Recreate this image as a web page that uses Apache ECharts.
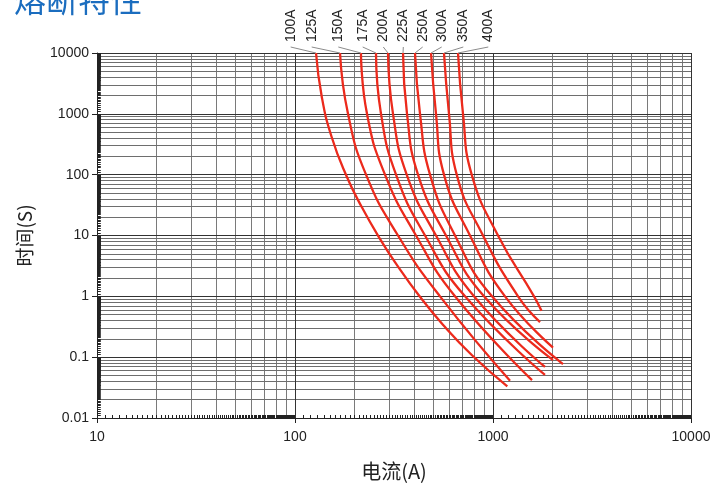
<!DOCTYPE html>
<html>
<head>
<meta charset="utf-8">
<script src="https://cdn.jsdelivr.net/npm/echarts@6/dist/echarts.min.js"></script>
<style>
html,body{margin:0;padding:0;background:#fff;}
#chart{width:725px;height:486px;}
</style>
</head>
<body>
<div id="chart"></div>
<script>
// ---- data ----
const xTickLabels = ['10', '100', '1000', '10000'];
const yTickLabels = ['0.01', '0.1', '1', '10', '100', '1000', '10000'];
const ratingLabels = ['100A', '125A', '150A', '175A', '200A', '225A', '250A', '300A', '350A', '400A'];
// [current (A), time (s)]
const curve100A = [[127.7,10000],[136.5,1910],[153,420],[182,95],[217,29.6],[271,8.4],[327.5,3.27],[421,1.05],[560,0.338],[781,0.1085],[1181,0.033]];
const curve125A = [[168.8,10000],[185.2,1000],[228.4,100],[331.3,10],[540,1],[1219,0.041]];
const curve150A = [[215.4,10000],[231,1000],[284.8,100],[408.4,10],[642.8,1],[1574,0.042]];
const curve175A = [[256.5,10000],[271.9,1000],[323.7,100],[453.6,10],[722.1,1],[1830,0.051]];
const curve200A = [[294.9,10000],[312.6,1000],[366.5,100],[515.3,10],[801.7,1],[1830,0.069]];
const curve225A = [[351.2,10000],[367.9,1000],[418,100],[578.8,10],[900.5,1],[2009,0.090]];
const curve250A = [[403.7,10000],[427.9,1000],[480.8,100],[642.8,10],[988.3,1],[2257,0.077]];
const curve300A = [[486.4,10000],[515.3,1000],[565.5,100],[765.3,10],[1150,1],[2009,0.144]];
const curve350A = [[565.5,10000],[599.5,1000],[655.8,100],[890.2,10],[1338,1],[1728,0.378]];
const curve400A = [[665.7,10000],[705.6,1000],[780.6,100],[1060,10],[1611,1],[1758,0.58]];
const curves = [curve100A, curve125A, curve150A, curve175A, curve200A, curve225A, curve250A, curve300A, curve350A, curve400A];

// ---- layout (pixels) ----
const labelX = [290.7, 311.7, 338.3, 362.7, 383.3, 403.3, 422.7, 441.7, 463.3, 488.3];
const labelBottomY = 42;
const leaderStartY = 47;

// ---- grid helpers built from axis ranges ----
const xDecades = [10, 100, 1000];
const yDecades = [0.01, 0.1, 1, 10, 100, 1000];
const minorMult = [2, 3, 4, 5, 6, 7, 8, 9];
function r(v){ return Number(v.toPrecision(6)); }

const gridLines = [];
xDecades.forEach(d => minorMult.forEach(m => gridLines.push({xAxis: r(d*m), lineStyle:{color:'#7a7a7a', width:1}})));
yDecades.forEach(d => minorMult.forEach(m => gridLines.push({yAxis: r(d*m), lineStyle:{color:'#6e6e6e', width:1}})));
[100, 1000, 10000].forEach(v => gridLines.push({xAxis: v, lineStyle:{color:'#333', width:1}}));
[0.1, 1, 10, 100, 1000, 10000].forEach(v => gridLines.push({yAxis: v, lineStyle:{color:'#333', width:1}}));

const tickLines = [];
for (let k = 11; k <= 99; k++) {
  xDecades.forEach(d => {
    const v = r(d * k / 10);
    tickLines.push([{coord:[v, 0.01]}, {coord:[v, 0.0112]}]);
  });
  yDecades.forEach(d => {
    const v = r(d * k / 10);
    tickLines.push([{coord:[10, v]}, {coord:[10.45, v]}]);
  });
}

const chart = echarts.init(document.getElementById('chart'), null, {renderer:'canvas'});
const fontLatin = '"Liberation Sans", Arial, sans-serif';
const fontCJK = '"Noto Sans CJK SC", sans-serif';

const series = [
  {
    type: 'line', data: [], silent: true, z: 1, symbol: 'none',
    markLine: { silent: true, symbol: ['none','none'], label:{show:false}, animation:false,
      lineStyle:{type:'solid'}, data: gridLines }
  },
  {
    type: 'line', data: [], silent: true, z: 2, symbol: 'none',
    markLine: { silent: true, symbol: ['none','none'], label:{show:false}, animation:false,
      lineStyle:{type:'solid', color:'#222', width:1}, data: tickLines }
  }
];
curves.forEach((c, i) => series.push({
  name: ratingLabels[i], type: 'line', data: c, smooth: 0.5, symbol: 'none', z: 5,
  lineStyle: { color: '#ec2a1c', width: 2.3 }, animation: false
}));

chart.setOption({
  animation: false,
  backgroundColor: '#fff',
  title: {
    text: '熔断特性', left: 9, top: -21,
    textStyle: { fontFamily: fontCJK, fontSize: 32, fontWeight: 'normal', color: '#1b6dbf' }
  },
  grid: { left: 97, right: 34, top: 53, bottom: 68, containLabel: false },
  xAxis: {
    type: 'log', logBase: 10, min: 10, max: 10000,
    name: '电流(A)', nameLocation: 'middle', nameGap: 43,
    nameTextStyle: { fontFamily: fontCJK, fontSize: 20, color: '#222' },
    axisLine: { show: true, lineStyle: { color: '#222', width: 1 } },
    axisTick: { show: true, length: 5, inside: false, lineStyle: { color: '#222' } },
    axisLabel: { fontFamily: fontLatin, fontSize: 14, color: '#222', margin: 12,
      formatter: v => xTickLabels[Math.round(Math.log10(v)) - 1] },
    splitLine: { show: false }, minorTick: { show: false }
  },
  yAxis: {
    type: 'log', logBase: 10, min: 0.01, max: 10000,
    name: '时间(S)', nameLocation: 'middle', nameGap: 63, nameRotate: 90,
    nameTextStyle: { fontFamily: fontCJK, fontSize: 19, color: '#222' },
    axisLine: { show: true, lineStyle: { color: '#222', width: 1 } },
    axisTick: { show: true, length: 5, inside: false, lineStyle: { color: '#222' } },
    axisLabel: { fontFamily: fontLatin, fontSize: 14, color: '#222', margin: 8,
      formatter: v => yTickLabels[Math.round(Math.log10(v)) + 2] },
    splitLine: { show: false }, minorTick: { show: false }
  },
  series: series
});

// labels with leader lines to each curve's top point
const graphics = [];
curves.forEach((c, i) => {
  const p = chart.convertToPixel({gridIndex: 0}, c[0]);
  graphics.push({
    type: 'line', silent: true, z: 10,
    shape: { x1: labelX[i], y1: leaderStartY, x2: p[0], y2: p[1] },
    style: { stroke: '#8c8c8c', lineWidth: 1 }
  });
  graphics.push({
    type: 'text', silent: true, z: 10,
    x: labelX[i], y: labelBottomY, rotation: Math.PI / 2,
    style: { text: ratingLabels[i], fontFamily: fontLatin, fontSize: 14, fill: '#222',
      align: 'left', verticalAlign: 'middle' }
  });
});
chart.setOption({ graphic: graphics });
</script>
</body>
</html>
